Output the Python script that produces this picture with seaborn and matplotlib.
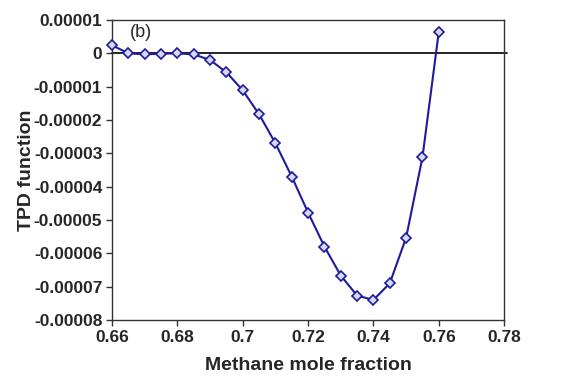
import numpy as np
import pandas as pd
import matplotlib
matplotlib.use("Agg")
import matplotlib.pyplot as plt
import seaborn as sns

# dados (b)
fracao_metano = [0.660, 0.665, 0.670, 0.675, 0.680, 0.685, 0.690, 0.695, 0.700,
                 0.705, 0.710, 0.715, 0.720, 0.725, 0.730, 0.735, 0.740, 0.745,
                 0.750, 0.755, 0.760]
tpd = [0.0000024, 0.0000000, -0.0000003, -0.0000001, 0.0000000, -0.0000003,
       -0.0000020, -0.0000057, -0.0000111, -0.0000183, -0.0000270, -0.0000370,
       -0.0000478, -0.0000580, -0.0000667, -0.0000727, -0.0000740, -0.0000690,
       -0.0000553, -0.0000312, 0.0000065]
x_ticks = [0.66, 0.68, 0.70, 0.72, 0.74, 0.76, 0.78]
x_labels = ['0.66', '0.68', '0.7', '0.72', '0.74', '0.76', '0.78']
y_ticks = [0.00001, 0.0, -0.00001, -0.00002, -0.00003, -0.00004,
           -0.00005, -0.00006, -0.00007, -0.00008]
y_labels = ['0.00001', '0', '-0.00001', '-0.00002', '-0.00003', '-0.00004',
            '-0.00005', '-0.00006', '-0.00007', '-0.00008']

df = pd.DataFrame({'x': fracao_metano, 'tpd': tpd})

sns.set_style("white")
plt.rcParams['font.family'] = ['Liberation Sans', 'DejaVu Sans']

fig = plt.figure(figsize=(5.69, 3.85), dpi=100)
ax = fig.add_axes([0.197, 0.169, 0.689, 0.779])

cor = '#1c1c9c'
ax.axhline(0, color='black', lw=1.2, zorder=1, xmax=1.008, clip_on=False)
sns.lineplot(data=df, x='x', y='tpd', ax=ax, color=cor, lw=1.5,
             marker='D', markersize=5, markerfacecolor='#d8d8f0',
             markeredgecolor=cor, markeredgewidth=1.2, zorder=3, clip_on=False)

ax.set_xlim(0.66, 0.78)
ax.set_ylim(-0.00008, 0.00001)
ax.set_xticks(x_ticks)
ax.set_xticklabels(x_labels, fontsize=12.5, fontweight='bold')
ax.set_yticks(y_ticks)
ax.set_yticklabels(y_labels, fontsize=12.5, fontweight='bold')
ax.tick_params(axis='both', direction='out', length=4, width=1, color='#333333',
               left=True, bottom=True, pad=3)

for lado in ['left', 'bottom', 'top', 'right']:
    ax.spines[lado].set_visible(True)
    ax.spines[lado].set_color('#333333')
    ax.spines[lado].set_linewidth(1.0)

ax.set_xlabel('Methane mole fraction', fontsize=14, fontweight='bold', labelpad=9)
ax.set_ylabel('TPD function', fontsize=14, fontweight='bold', labelpad=-1)
ax.text(0.6655, 0.0000063, '(b)', fontsize=13, ha='left', va='center')

fig.savefig('out.png', dpi=100)
